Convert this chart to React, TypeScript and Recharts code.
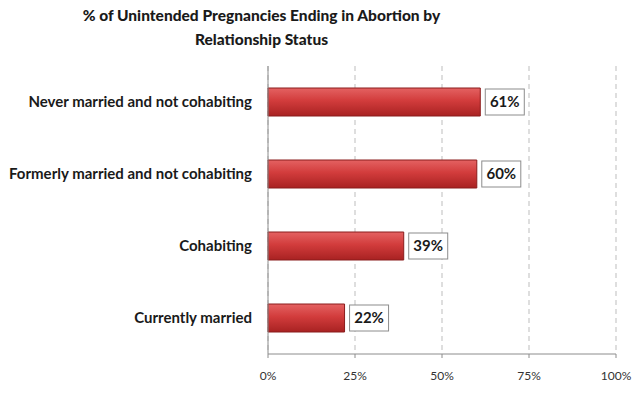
import { BarChart, Bar, XAxis, YAxis, CartesianGrid, LabelList } from 'recharts'

const categories = [
  'Never married and not cohabiting',
  'Formerly married and not cohabiting',
  'Cohabiting',
  'Currently married',
]
const values = [61, 60, 39, 22]
const xTicks = [0, 25, 50, 75, 100]

const data = categories.map((status, i) => ({ status, pct: values[i] }))

const FONT = 'Lato, "Open Sans", sans-serif'

const ValueBox = (props: any) => {
  const { x, y, width, height, value } = props
  const bx = x + width + 5
  const cy = y + height / 2
  return (
    <g>
      <rect x={bx} y={cy - 13} width={39} height={26} fill="#ffffff" stroke="#8c8c8c" strokeWidth={1} />
      <text
        x={bx + 19.5}
        y={cy + 1}
        textAnchor="middle"
        dominantBaseline="middle"
        fontFamily={FONT}
        fontWeight="bold"
        fontSize={15}
        fill="#1a1a1a"
      >
        {value}%
      </text>
    </g>
  )
}

const App = () => {
  return (
    <div style={{ position: 'absolute', left: 0, top: 0, width: 640, height: 394, background: '#fff' }}>
      <div
        style={{
          position: 'absolute',
          left: 0,
          top: 3,
          width: 523,
          textAlign: 'center',
          fontFamily: FONT,
          fontWeight: 900,
          fontSize: 15.5,
          lineHeight: '24px',
          color: '#1a1a1a',
        }}
      >
        % of Unintended Pregnancies Ending in Abortion by
        <br />
        Relationship Status
      </div>
      <BarChart
        width={640}
        height={394}
        data={data}
        layout="vertical"
        margin={{ top: 66, right: 24, bottom: 10, left: 0 }}
        barCategoryGap="30%"
      >
        <defs>
          <linearGradient id="redBar" x1="0" y1="0" x2="0" y2="1">
            <stop offset="0%" stopColor="#e46262" />
            <stop offset="45%" stopColor="#d23c3c" />
            <stop offset="100%" stopColor="#a82222" />
          </linearGradient>
        </defs>
        <CartesianGrid horizontal={false} stroke="#bdbdbd" strokeDasharray="5 4" />
        <XAxis
          type="number"
          domain={[0, 100]}
          ticks={xTicks}
          tickFormatter={(v: number) => `${v}%`}
          height={30}
          axisLine={{ stroke: '#8c8c8c' }}
          tickLine={{ stroke: '#8c8c8c' }}
          tickSize={4}
          tickMargin={13}
          tick={{ fill: '#333333', fontSize: 12, fontFamily: FONT }}
        />
        <YAxis
          type="category"
          dataKey="status"
          width={268}
          axisLine={{ stroke: '#8c8c8c' }}
          tickLine={false}
          tickSize={5}
          tickMargin={11}
          tick={{ fill: '#1a1a1a', fontSize: 15, fontWeight: 'bold', fontFamily: FONT }}
        />
        <Bar dataKey="pct" fill="url(#redBar)" stroke="#8a1c1c" strokeWidth={1} barSize={28} isAnimationActive={false}>
          <LabelList dataKey="pct" content={ValueBox} />
        </Bar>
      </BarChart>
    </div>
  )
}

export default App
